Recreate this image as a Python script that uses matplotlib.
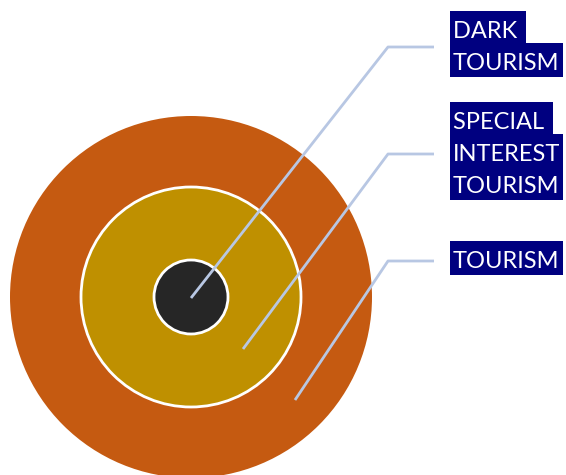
import matplotlib.pyplot as plt
from matplotlib.patches import Circle, Rectangle

# nested circles, outermost first
labels = ["TOURISM", "SPECIAL \nINTEREST\nTOURISM", "DARK \nTOURISM"]
radii = [181, 110, 37]
colors = ["#C55A11", "#BF9000", "#262626"]

# leader lines: start point inside the ring, elbow, end next to label
leader_start = [(295, 400), (243, 349), (191, 298)]
leader_elbow_y = [261, 154, 47]
label_top = [241, 102, 11]

center = (191, 297)
line_col = "#B8C7E3"
box_col = "#000080"

fig = plt.figure(figsize=(5.66, 4.75), dpi=100)
ax = fig.add_axes([0, 0, 1, 1])
ax.set_xlim(0, 566)
ax.set_ylim(475, 0)
ax.set_aspect("equal")
ax.axis("off")

for i, (r, c) in enumerate(zip(radii, colors)):
    ec = "none" if i == 0 else "white"
    ax.add_patch(Circle(center, r, facecolor=c, edgecolor=ec, lw=2, zorder=1 + i))

renderer = fig.canvas.get_renderer()
for (x0, y0), ye, top, lab in zip(leader_start, leader_elbow_y, label_top, labels):
    ax.plot([x0, 388, 434], [y0, ye, ye], color=line_col, lw=2,
            solid_capstyle="butt", zorder=10)
    for j, line in enumerate(lab.split("\n")):
        t = ax.text(453, top + 27 + j * 32, line, color="white", fontsize=17,
                    family="Lato", va="baseline", ha="left", zorder=12)
        w = t.get_window_extent(renderer).width
        # highlight behind each text line, like a word-processor highlight
        ax.add_patch(Rectangle((450, top + j * 32), w + 6, 34,
                               facecolor=box_col, edgecolor="none", zorder=11))

fig.savefig("out.png", dpi=100)
